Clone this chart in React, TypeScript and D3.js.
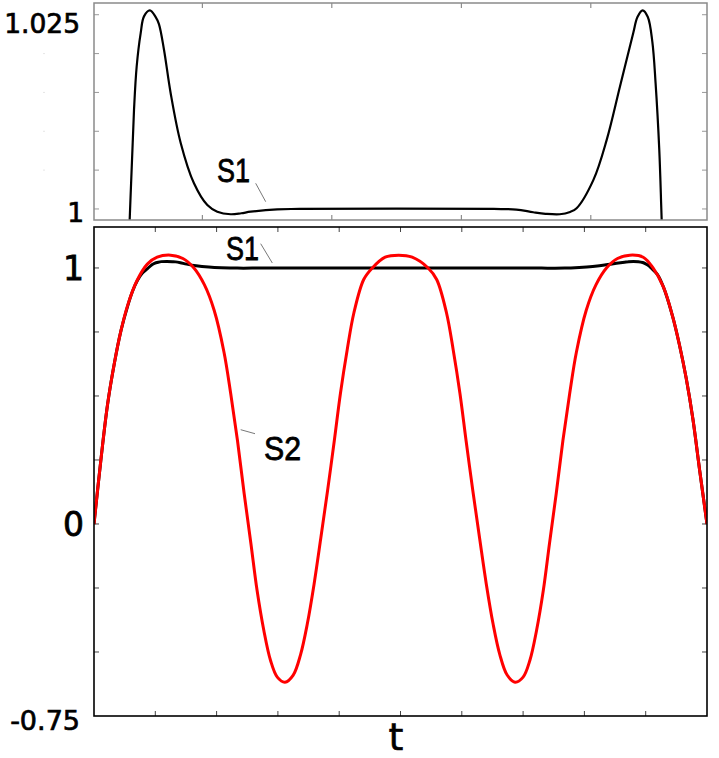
import React from "react";
import * as d3 from "d3";

// ---- data ----
const s1T = [0, 0.11, 0.22, 0.33, 0.44, 0.55, 0.63, 0.71, 0.79, 0.878, 0.945, 0.986, 1.048, 1.099, 1.19, 1.28, 1.33, 1.408, 1.511, 1.666, 1.871, 2.077, 2.231, 2.438, 2.6, 2.747, 3.157, 3.5, 6.5, 6.85, 7.11, 7.3, 7.52, 7.68, 7.78, 8.04, 8.245, 8.45, 8.655, 8.72, 8.8, 8.88, 8.95, 9.0, 9.057, 9.094, 9.19, 9.29, 9.44, 9.55, 9.66, 9.77, 9.88, 10];
const s1V = [0, 0.245, 0.465, 0.625, 0.755, 0.852, 0.91, 0.952, 0.98, 0.9986, 1.01276, 1.01834, 1.02264, 1.02479, 1.02556, 1.0247, 1.0238, 1.0205, 1.0149, 1.0085, 1.0033, 1.0005, 0.99965, 0.99932, 0.99945, 0.99965, 0.99996, 1.0, 1.0, 0.99992, 0.99958, 0.99938, 0.99932, 0.99962, 1.00009, 1.00374, 1.00889, 1.01576, 1.02264, 1.0247, 1.02556, 1.0247, 1.0215, 1.0162, 1.0076, 0.9986, 0.975, 0.925, 0.81, 0.7, 0.57, 0.41, 0.21, 0];

const s2T = [0, 0.11, 0.22, 0.33, 0.44, 0.55, 0.7, 0.87, 1.03, 1.25, 1.45, 1.63, 1.8, 1.96, 2.12, 2.23, 2.34, 2.45, 2.56, 2.66, 2.77, 2.88, 2.99, 3.115, 3.25, 3.37, 3.48, 3.59, 3.7, 3.81, 3.92, 4.02, 4.13, 4.24, 4.4, 4.54, 4.75, 4.97, 5.19, 5.45, 5.59, 5.75, 5.86, 5.97, 6.07, 6.18, 6.29, 6.4, 6.51, 6.62, 6.74, 6.87, 7.0, 7.11, 7.22, 7.33, 7.43, 7.54, 7.65, 7.76, 7.87, 8.03, 8.19, 8.36, 8.54, 8.74, 8.96, 9.12, 9.29, 9.44, 9.55, 9.66, 9.77, 9.88, 10];
const s2V = [0, 0.245, 0.465, 0.625, 0.755, 0.855, 0.95, 1.015, 1.042, 1.05, 1.037, 1.0, 0.935, 0.835, 0.672, 0.51, 0.327, 0.118, -0.077, -0.259, -0.415, -0.533, -0.598, -0.618, -0.59, -0.51, -0.39, -0.235, -0.055, 0.13, 0.325, 0.51, 0.68, 0.825, 0.955, 1.0, 1.042, 1.05, 1.042, 1.0, 0.955, 0.825, 0.68, 0.51, 0.325, 0.13, -0.055, -0.235, -0.39, -0.51, -0.59, -0.618, -0.598, -0.533, -0.415, -0.259, -0.077, 0.118, 0.327, 0.51, 0.672, 0.835, 0.935, 1.0, 1.037, 1.05, 1.042, 1.0, 0.925, 0.81, 0.7, 0.57, 0.41, 0.21, 0];

const mainXTicks = [1, 2, 3, 4, 5, 6, 7, 8, 9];
const mainYTicks = [-0.5, -0.25, 0, 0.25, 0.5, 0.75, 1];
const mainYLabels = [
  { v: 1, text: "1" },
  { v: 0, text: "0" },
];
const topXTicks = [2, 4, 6, 8];
const topYTicks = [1, 1.005, 1.01, 1.015, 1.02, 1.025];

export default function App() {
  const L = 94, R = 707;
  // main panel
  const mT = 227, mB = 716;
  const xM = d3.scaleLinear().domain([0, 10]).range([L, R]);
  const yM = d3.scaleLinear().domain([-0.75, 1.16]).range([mB, mT]);
  // top panel
  const tT = 3, tB = 220;
  const xTp = d3.scaleLinear().domain([0.327, 9.794]).range([L, R]);
  const yTp = d3.scaleLinear().domain([0.99858, 1.02651]).range([tB, tT]);

  const s1 = s1T.map((t, i) => [t, s1V[i]] as [number, number]);
  const s2 = s2T.map((t, i) => [t, s2V[i]] as [number, number]);

  const curve = d3.curveCatmullRom.alpha(0.5);
  const lineM = d3.line<[number, number]>().x(d => xM(d[0])).y(d => yM(d[1])).curve(curve);
  const lineT = d3.line<[number, number]>().x(d => xTp(d[0])).y(d => yTp(d[1])).curve(curve);

  const font = "'DejaVu Sans', sans-serif";
  const lblFont = "'Liberation Sans', sans-serif";
  const tick = 5;

  return (
    <svg width={719} height={758} style={{ position: "absolute", left: 0, top: 0, background: "#fff" }}>
      <defs>
        <clipPath id="clipTop"><rect x={L} y={tT} width={R - L} height={tB - tT} /></clipPath>
        <clipPath id="clipMain"><rect x={L} y={mT} width={R - L} height={mB - mT} /></clipPath>
      </defs>
      <rect x={0} y={0} width={719} height={758} fill="#fff" />

      {/* ---------- top panel ---------- */}
      <g>
        {topYTicks.map(v => (
          <g key={"ty" + v}>
            <line x1={L} x2={L + tick} y1={yTp(v)} y2={yTp(v)} stroke="#999" strokeWidth={1} />
            <line x1={R} x2={R - tick} y1={yTp(v)} y2={yTp(v)} stroke="#999" strokeWidth={1} />
            {v > 1 && v < 1.025 && (
              <line x1={43} x2={45} y1={yTp(v)} y2={yTp(v)} stroke="#e6e6e6" strokeWidth={1} />
            )}
          </g>
        ))}
        {topXTicks.map(v => (
          <g key={"tx" + v}>
            <line x1={xTp(v)} x2={xTp(v)} y1={tT} y2={tT + tick} stroke="#777" strokeWidth={1} />
            <line x1={xTp(v)} x2={xTp(v)} y1={tB} y2={tB - tick} stroke="#777" strokeWidth={1} />
          </g>
        ))}
        <path d={lineT(s1) || ""} fill="none" stroke="#000" strokeWidth={2.2} clipPath="url(#clipTop)" />
        <rect x={L} y={tT} width={R - L} height={tB - tT} fill="none" stroke="#8a8a8a" strokeWidth={1.5} />
        <text x={80} y={33} textAnchor="end" fontFamily={font} fontSize={26.5} fill="#000" stroke="#000" strokeWidth={0.7}>1.025</text>
        <text x={84} y={222} textAnchor="end" fontFamily={font} fontSize={26.5} fill="#000" stroke="#000" strokeWidth={0.7}>1</text>
        <line x1={255.7} y1={183.3} x2={265.7} y2={201.7} stroke="#555" strokeWidth={0.8} />
        <text x={217} y={182} fontFamily={lblFont} fontSize={34} textLength={33} lengthAdjust="spacingAndGlyphs" fill="#000" stroke="#000" strokeWidth={0.8}>S1</text>
      </g>

      {/* ---------- main panel ---------- */}
      <g>
        {mainYTicks.map(v => (
          <g key={"my" + v}>
            <line x1={L} x2={L + tick} y1={yM(v)} y2={yM(v)} stroke="#444" strokeWidth={1} />
            <line x1={R} x2={R - tick} y1={yM(v)} y2={yM(v)} stroke="#444" strokeWidth={1} />
          </g>
        ))}
        {mainXTicks.map(v => (
          <g key={"mx" + v}>
            <line x1={xM(v)} x2={xM(v)} y1={mT} y2={mT + tick} stroke="#444" strokeWidth={1} />
            <line x1={xM(v)} x2={xM(v)} y1={mB} y2={mB - tick} stroke="#444" strokeWidth={1} />
          </g>
        ))}
        <g clipPath="url(#clipMain)">
          <path d={lineM(s1) || ""} fill="none" stroke="#000" strokeWidth={3} />
          <path d={lineM(s2) || ""} fill="none" stroke="#ff0000" strokeWidth={3} />
        </g>
        <rect x={L} y={mT} width={R - L} height={mB - mT} fill="none" stroke="#000" strokeWidth={1.6} />
        {mainYLabels.map(d => (
          <text key={"ml" + d.v} x={84} y={yM(d.v) + 12.5} textAnchor="end" fontFamily={font} fontSize={33} fill="#000" stroke="#000" strokeWidth={0.8}>{d.text}</text>
        ))}
        <text x={80} y={730} textAnchor="end" fontFamily={font} fontSize={27} fill="#000" stroke="#000" strokeWidth={0.7}>-0.75</text>
        <text x={396} y={750} textAnchor="middle" fontFamily={font} fontSize={38} fill="#000" stroke="#000" strokeWidth={0.6}>t</text>

        <line x1={260.7} y1={243.7} x2={272.3} y2={263} stroke="#555" strokeWidth={0.8} />
        <text x={226} y={260} fontFamily={lblFont} fontSize={34} textLength={33} lengthAdjust="spacingAndGlyphs" fill="#000" stroke="#000" strokeWidth={0.8}>S1</text>
        <line x1={240.7} y1={429.7} x2={255} y2={433.7} stroke="#555" strokeWidth={0.8} />
        <text x={264} y={460} fontFamily={lblFont} fontSize={34} textLength={37} lengthAdjust="spacingAndGlyphs" fill="#000" stroke="#000" strokeWidth={0.8}>S2</text>
      </g>
    </svg>
  );
}
